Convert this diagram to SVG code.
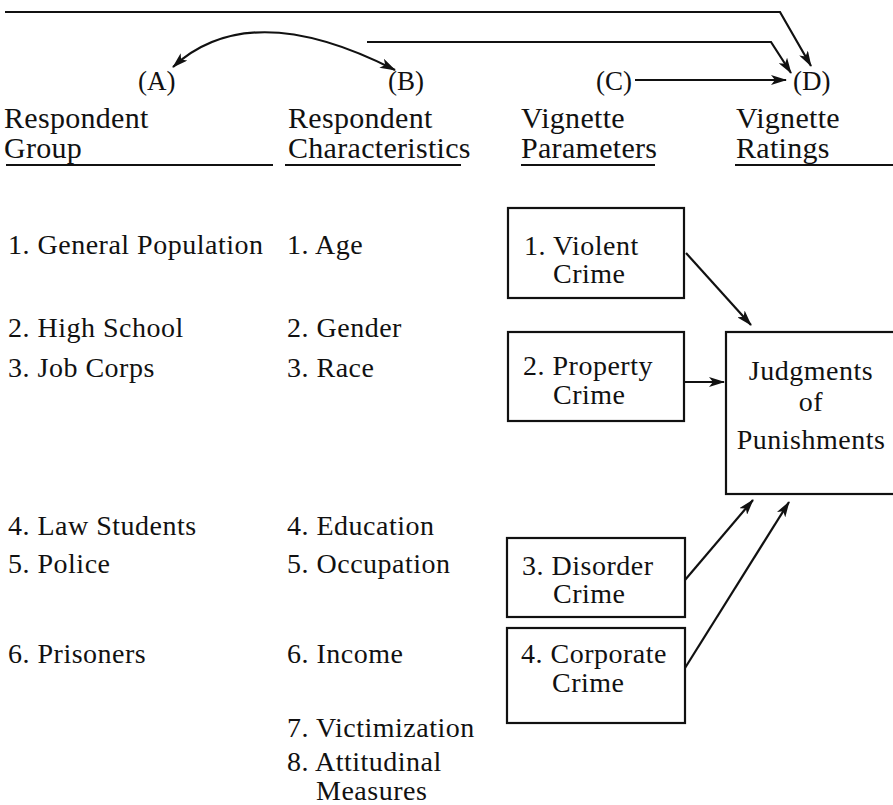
<svg xmlns="http://www.w3.org/2000/svg" width="893" height="805" viewBox="0 0 893 805" font-family="'Liberation Serif', 'Times New Roman', serif">
<style>
text{font-family:"Liberation Serif","Times New Roman",serif;fill:#111}
.b{font-size:28px;letter-spacing:0.5px}
.h{font-size:30px;letter-spacing:0.3px}
.l{font-size:27px}
.box{fill:none;stroke:#111;stroke-width:2.2}
.c{fill:none;stroke:#111;stroke-width:2.2}
.u{stroke:#111;stroke-width:2.2}
</style>
<defs>
<marker id="ah" viewBox="0 0 16 10" refX="15" refY="5" markerWidth="16" markerHeight="10" markerUnits="userSpaceOnUse" orient="auto-start-reverse">
<path d="M0,0 L16,5 L0,10 L4,5 z" fill="#111"/>
</marker>
</defs>
<g id="connectors">
<path class="c" d="M173,67 Q250,-4 395,70" marker-start="url(#ah)" marker-end="url(#ah)"/>
<path class="c" d="M5,12 L780,12 L811,66" marker-end="url(#ah)"/>
<path class="c" d="M367,42 L771,42 L791,73" marker-end="url(#ah)"/>
<path class="c" d="M635,80 L786,80" marker-end="url(#ah)"/>
<path class="c" d="M686,253 L751,325" marker-end="url(#ah)"/>
<path class="c" d="M685,382 L724,382" marker-end="url(#ah)"/>
<path class="c" d="M685,580 L753,500" marker-end="url(#ah)"/>
<path class="c" d="M685,668 L789,502" marker-end="url(#ah)"/>
</g>
<g id="nodeA"><text class="l" x="138" y="90">(A)</text></g>
<g id="nodeB"><text class="l" x="388" y="90">(B)</text></g>
<g id="nodeC"><text class="l" x="596" y="90">(C)</text></g>
<g id="nodeD"><text class="l" x="793" y="90">(D)</text></g>
<g id="header-group">
<text class="h" x="4" y="128">Respondent</text>
<text class="h" x="4" y="158">Group</text>
<line class="u" x1="6" y1="165" x2="273" y2="165"/>
</g>
<g id="header-characteristics">
<text class="h" x="288" y="128">Respondent</text>
<text class="h" x="288" y="158">Characteristics</text>
<line class="u" x1="285" y1="165" x2="461" y2="165"/>
</g>
<g id="header-parameters">
<text class="h" x="521" y="128">Vignette</text>
<text class="h" x="521" y="158">Parameters</text>
<line class="u" x1="521" y1="165" x2="655" y2="165"/>
</g>
<g id="header-ratings">
<text class="h" x="736" y="128">Vignette</text>
<text class="h" x="736" y="158">Ratings</text>
<line class="u" x1="735" y1="165" x2="893" y2="165"/>
</g>
<g id="groups">
<text class="b" x="8" y="254">1. General Population</text>
<text class="b" x="8" y="337">2. High School</text>
<text class="b" x="8" y="377">3. Job Corps</text>
<text class="b" x="8" y="535">4. Law Students</text>
<text class="b" x="8" y="573">5. Police</text>
<text class="b" x="8" y="663">6. Prisoners</text>
</g>
<g id="characteristics">
<text class="b" x="287" y="254">1. Age</text>
<text class="b" x="287" y="337">2. Gender</text>
<text class="b" x="287" y="377">3. Race</text>
<text class="b" x="287" y="535">4. Education</text>
<text class="b" x="287" y="573">5. Occupation</text>
<text class="b" x="287" y="663">6. Income</text>
<text class="b" x="287" y="737">7. Victimization</text>
<text class="b" x="287" y="771">8. Attitudinal</text>
<text class="b" x="316" y="800">Measures</text>
</g>
<g id="box-violent">
<rect class="box" x="508" y="208" width="176" height="90"/>
<text class="b" x="524" y="255">1. Violent</text>
<text class="b" x="553" y="283">Crime</text>
</g>
<g id="box-property">
<rect class="box" x="508" y="332" width="176" height="89"/>
<text class="b" x="523" y="375">2. Property</text>
<text class="b" x="553" y="404">Crime</text>
</g>
<g id="box-disorder">
<rect class="box" x="507" y="538" width="178" height="79"/>
<text class="b" x="522" y="575">3. Disorder</text>
<text class="b" x="553" y="603">Crime</text>
</g>
<g id="box-corporate">
<rect class="box" x="507" y="628" width="178" height="95"/>
<text class="b" x="521" y="663">4. Corporate</text>
<text class="b" x="552" y="692">Crime</text>
</g>
<g id="box-judgments">
<rect class="box" x="726" y="332" width="180" height="162"/>
<text class="b" x="811" y="380" text-anchor="middle">Judgments</text>
<text class="b" x="811" y="411" text-anchor="middle">of</text>
<text class="b" x="811" y="449" text-anchor="middle">Punishments</text>
</g>
</svg>
